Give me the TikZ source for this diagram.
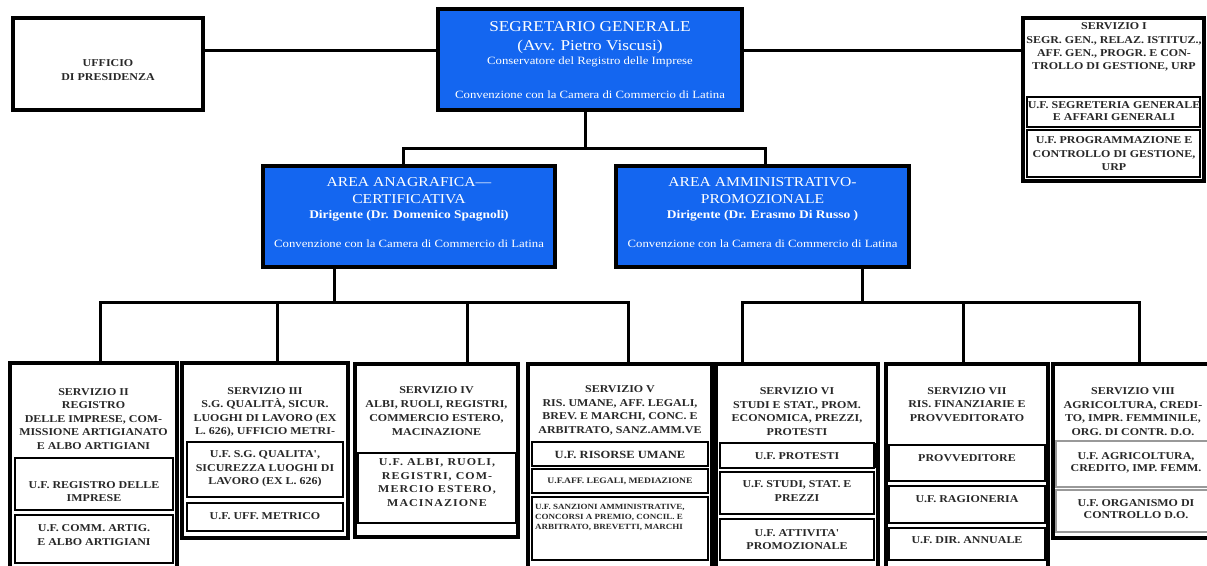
\documentclass[tikz,border=0pt]{standalone}
\usepackage{fontspec}
\setmainfont{Liberation Serif}
\newfontfamily\boxfont[FakeStretch=1.14]{Liberation Serif}
\newfontfamily\bluefont[FakeStretch=1.15]{Liberation Serif}
\newfontfamily\spacefont[FakeStretch=1.14,LetterSpace=10]{Liberation Serif}
\definecolor{orgblue}{RGB}{20,102,240}
\definecolor{txtgray}{RGB}{40,40,40}
\begin{document}
\begin{tikzpicture}[x=1pt,y=-1pt,
  outerbox/.style={draw=black, line width=3.2pt, fill=white, inner sep=0pt, outer sep=0pt, anchor=north west},
  innerbox/.style={draw=black, line width=2.2pt, inner sep=0pt, outer sep=0pt, anchor=north west},
  graybox/.style={draw=black!40, line width=1.2pt, inner sep=0pt, outer sep=0pt, anchor=north west},
  bluebox/.style={draw=black, line width=3.2pt, fill=orgblue, inner sep=0pt, outer sep=0pt, anchor=north west},
  conn/.style={draw=black, line width=3pt, line join=miter},
  wt/.style={font={\boxfont\bfseries\fontsize{10.5}{13.5}\selectfont}, text=txtgray, align=center, inner sep=0pt},
  wtsp/.style={font={\spacefont\bfseries\fontsize{10.5}{13.7}\selectfont}, text=txtgray, align=center, inner sep=0pt},
  wtsmall/.style={font={\boxfont\bfseries\fontsize{7.9}{10}\selectfont}, text=txtgray, align=left, inner sep=0pt, anchor=west},
  btbig/.style={font={\bluefont\fontsize{15}{17}\selectfont}, text=white, inner sep=0pt},
  btarea/.style={font={\bluefont\fontsize{13.6}{15}\selectfont}, text=white, inner sep=0pt},
  btdir/.style={font={\bluefont\bfseries\fontsize{11.7}{13}\selectfont}, text=white, inner sep=0pt},
  btsmall/.style={font={\bluefont\fontsize{11.1}{12}\selectfont}, text=white, inner sep=0pt}
]
\useasboundingbox (0,0) rectangle (1207,565);
\clip (0,0) rectangle (1207,565);
\fill[white] (0,0) rectangle (1207,565);

% ---- top level ----
\node[outerbox, minimum width=190pt, minimum height=92pt] (pres) at (13,18) {};
\node[wt] (tpres) at (108,70) {UFFICIO\\DI PRESIDENZA};

\node[bluebox, minimum width=304pt, minimum height=101pt] (seg) at (438,9) {};
\node[btbig] (tseg1) at (590,27) {SEGRETARIO GENERALE};
\node[btbig] (tseg2) at (590,47) {(Avv. Pietro Viscusi)};
\node[btsmall] (tseg3) at (590,62) {Conservatore del Registro delle Imprese};
\node[btsmall] (tseg4) at (590,95) {Convenzione con la Camera di Commercio di Latina};

\node[outerbox, minimum width=181pt, minimum height=163pt] (s1) at (1023,18) {};
\node[innerbox, minimum width=173pt, minimum height=30pt] (s1a) at (1027,97) {};
\node[innerbox, minimum width=173pt, minimum height=47pt] (s1b) at (1027,130) {};
\node[wt, font={\boxfont\bfseries\fontsize{10.5}{13.3}\selectfont}] (ts1) at (1114,47) {SERVIZIO I\\SEGR. GEN., RELAZ. ISTITUZ.,\\AFF. GEN., PROGR. E CON-\\TROLLO DI GESTIONE, URP};
\node[wt, font={\boxfont\bfseries\fontsize{10.5}{12}\selectfont}] (ts1a) at (1114,111.5) {U.F. SEGRETERIA GENERALE\\E AFFARI GENERALI};
\node[wt] (ts1b) at (1114,154) {U.F. PROGRAMMAZIONE E\\CONTROLLO DI GESTIONE,\\URP};

% ---- areas ----
\node[bluebox, minimum width=292pt, minimum height=101pt] (aa) at (263,166) {};
\node[btarea] (taa1) at (409,182) {AREA ANAGRAFICA—};
\node[btarea] (taa2) at (409,199) {CERTIFICATIVA};
\node[btdir] (taa3) at (409,216) {Dirigente (Dr. Domenico Spagnoli)};
\node[btsmall] (taa4) at (409,244) {Convenzione con la Camera di Commercio di Latina};

\node[bluebox, minimum width=293pt, minimum height=101pt] (am) at (616,166) {};
\node[btarea] (tam1) at (762.5,182) {AREA AMMINISTRATIVO-};
\node[btarea] (tam2) at (762.5,199) {PROMOZIONALE};
\node[btdir] (tam3) at (762.5,216) {Dirigente (Dr. Erasmo Di Russo )};
\node[btsmall] (tam4) at (762.5,244) {Convenzione con la Camera di Commercio di Latina};

% ---- servizio II ----
\node[outerbox, minimum width=167pt, minimum height=240pt] (s2) at (10,363) {};
\node[innerbox, minimum width=158pt, minimum height=52pt] (s2a) at (15,458) {};
\node[innerbox, minimum width=158pt, minimum height=48pt] (s2b) at (15,515) {};
\node[wt] (ts2) at (93.5,419) {SERVIZIO II\\REGISTRO\\DELLE IMPRESE, COM-\\MISSIONE ARTIGIANATO\\E ALBO ARTIGIANI};
\node[wt] (ts2a) at (94,491.5) {U.F. REGISTRO DELLE\\IMPRESE};
\node[wt] (ts2b) at (94,535) {U.F. COMM. ARTIG.\\E ALBO ARTIGIANI};

% ---- servizio III ----
\node[outerbox, minimum width=166pt, minimum height=175pt] (s3) at (182,363) {};
\node[innerbox, minimum width=156pt, minimum height=55pt] (s3a) at (187,442) {};
\node[innerbox, minimum width=156pt, minimum height=28pt] (s3b) at (187,503) {};
\node[wt] (ts3) at (265,412) {SERVIZIO III\\S.G. QUALITÀ, SICUR.\\LUOGHI DI LAVORO (EX\\L. 626), UFFICIO METRI-};
\node[wt] (ts3a) at (265,469) {U.F. S.G. QUALITA',\\SICUREZZA LUOGHI DI\\LAVORO (EX L. 626)};
\node[wt] (ts3b) at (265,516.5) {U.F. UFF. METRICO};

% ---- servizio IV ----
\node[outerbox, minimum width=163pt, minimum height=173pt] (s4) at (355,364) {};
\node[innerbox, minimum width=158pt, minimum height=70pt] (s4a) at (358,453) {};
\node[wt, font={\boxfont\bfseries\fontsize{10.5}{14}\selectfont}] (ts4) at (436.5,411.5) {SERVIZIO IV\\ALBI, RUOLI, REGISTRI,\\COMMERCIO ESTERO,\\MACINAZIONE};
\node[wtsp] (ts4a) at (437,482.5) {U.F. ALBI, RUOLI,\\REGISTRI, COM-\\MERCIO ESTERO,\\MACINAZIONE};

% ---- servizio V ----
\node[outerbox, minimum width=184pt, minimum height=240pt] (s5) at (528,364) {};
\node[innerbox, minimum width=176pt, minimum height=24pt] (s5a) at (532,442) {};
\node[innerbox, minimum width=176pt, minimum height=24pt] (s5b) at (532,469) {};
\node[innerbox, minimum width=176pt, minimum height=63pt] (s5c) at (532,497) {};
\node[wt] (ts5) at (620,410.5) {SERVIZIO V\\RIS. UMANE, AFF. LEGALI,\\BREV. E MARCHI, CONC. E\\ARBITRATO, SANZ.AMM.VE};
\node[wt, font={\boxfont\bfseries\fontsize{11}{13}\selectfont}] (ts5a) at (620,454.5) {U.F. RISORSE UMANE};
\node[wt, font={\boxfont\bfseries\fontsize{8.4}{10}\selectfont}] (ts5b) at (620,481.5) {U.F.AFF. LEGALI, MEDIAZIONE};
\node[wtsmall] (ts5c) at (535,517) {U.F. SANZIONI AMMINISTRATIVE,\\CONCORSI A PREMIO, CONCIL. E\\ARBITRATO, BREVETTI, MARCHI};

% ---- servizio VI ----
\node[outerbox, minimum width=162pt, minimum height=240pt] (s6) at (716,364) {};
\node[innerbox, minimum width=154pt, minimum height=25pt] (s6a) at (720,443) {};
\node[innerbox, minimum width=154pt, minimum height=42pt] (s6b) at (720,472) {};
\node[innerbox, minimum width=154pt, minimum height=41pt] (s6c) at (720,519) {};
\fill[black] (s6a.north east) rectangle (s6.east |- s6a.south east);
\node[wt] (ts6) at (797,411.5) {SERVIZIO VI\\STUDI E STAT., PROM.\\ECONOMICA, PREZZI,\\PROTESTI};
\node[wt] (ts6a) at (797,456) {U.F. PROTESTI};
\node[wt] (ts6b) at (797,491) {U.F. STUDI, STAT. E\\PREZZI};
\node[wt] (ts6c) at (797,539.5) {U.F. ATTIVITA'\\PROMOZIONALE};

% ---- servizio VII ----
\node[outerbox, minimum width=162pt, minimum height=240pt] (s7) at (886,364) {};
\node[innerbox, minimum width=156pt, minimum height=36pt] (s7a) at (889,445) {};
\node[innerbox, minimum width=156pt, minimum height=37pt] (s7b) at (889,486) {};
\node[innerbox, minimum width=156pt, minimum height=32pt] (s7c) at (889,528) {};
\node[wt] (ts7) at (967,404.5) {SERVIZIO VII\\RIS. FINANZIARIE E\\PROVVEDITORATO};
\node[wt] (ts7a) at (967,458) {PROVVEDITORE};
\node[wt] (ts7b) at (967,499) {U.F. RAGIONERIA};
\node[wt] (ts7c) at (967,540) {U.F. DIR. ANNUALE};

% ---- servizio VIII ----
\node[outerbox, minimum width=165pt, minimum height=174pt] (s8) at (1053,364) {};
\node[graybox, minimum width=160pt, minimum height=46pt] (s8a) at (1056,441) {};
\node[graybox, minimum width=160pt, minimum height=42pt] (s8b) at (1056,490) {};
\node[wt] (ts8) at (1133,411.5) {SERVIZIO VIII\\AGRICOLTURA, CREDI-\\TO, IMPR. FEMMINILE,\\ORG. DI CONTR. D.O.};
\node[wt, font={\boxfont\bfseries\fontsize{10.5}{11.7}\selectfont}] (ts8a) at (1136,462.5) {U.F. AGRICOLTURA,\\CREDITO, IMP. FEMM.};
\node[wt, font={\boxfont\bfseries\fontsize{10.5}{12}\selectfont}] (ts8b) at (1136,509) {U.F. ORGANISMO DI\\CONTROLLO D.O.};

% ---- connectors ----
\coordinate (lY) at (0,50);
\draw[conn] (pres.east |- lY) -- (seg.west |- lY);
\draw[conn] (seg.east |- lY) -- (s1.west |- lY);
\coordinate (jt) at (585,148);
\coordinate (ja) at (403,148);
\coordinate (jm) at (765,148);
\draw[conn] (seg.south -| jt) -- (jt);
\draw[conn] (aa.north -| ja) -- (ja) -- (jm) -- (am.north -| jm);
\coordinate (jl) at (334,302);
\coordinate (jr) at (862,302);
\draw[conn] (aa.south -| jl) -- (jl);
\draw[conn] (am.south -| jr) -- (jr);
\coordinate (b2) at (100,302);
\coordinate (b3) at (277,302);
\coordinate (b4) at (467,302);
\coordinate (b5) at (628,302);
\coordinate (b6) at (742,302);
\coordinate (b7) at (963,302);
\coordinate (b8) at (1139,302);
\draw[conn] (s2.north -| b2) -- (b2) -- (b5) -- (s5.north -| b5);
\draw[conn] (b3) -- (s3.north -| b3);
\draw[conn] (b4) -- (s4.north -| b4);
\draw[conn] (s6.north -| b6) -- (b6) -- (b8) -- (s8.north -| b8);
\draw[conn] (b7) -- (s7.north -| b7);
\end{tikzpicture}
\end{document}
